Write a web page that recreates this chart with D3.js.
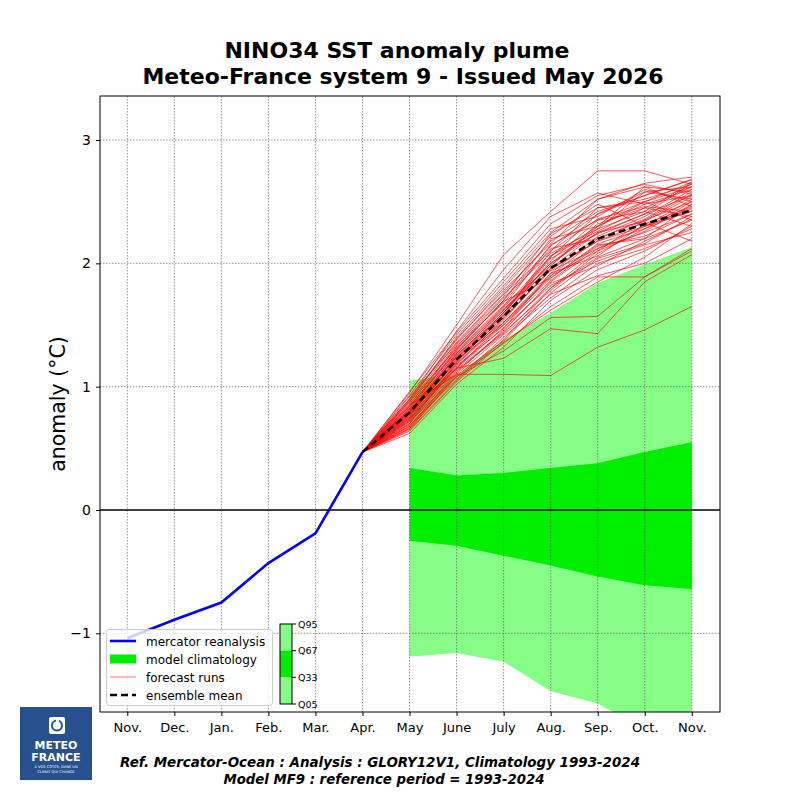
<!DOCTYPE html>
<html>
<head>
<meta charset="utf-8">
<script src="https://cdn.jsdelivr.net/npm/d3@7"></script>
<style>
  body { margin: 0; background: #fff; }
  text { font-family: "DejaVu Sans", sans-serif; }
</style>
</head>
<body>
<div id="chart"></div>
<script>
// Months on the x axis (Nov. 2025 -> Nov. 2026)
const months = ["Nov.", "Dec.", "Jan.", "Feb.", "Mar.", "Apr.", "May", "June", "July", "Aug.", "Sep.", "Oct.", "Nov."];
const yTicks = [-1, 0, 1, 2, 3];

// Mercator reanalysis, Nov. -> Apr.
const reanalysis = [-1.04, -0.89, -0.75, -0.43, -0.19, 0.47];

// Model climatology quantiles, May -> Nov.
const climQ05 = [-1.19, -1.16, -1.23, -1.47, -1.57, -1.78, -1.88];
const climQ33 = [-0.25, -0.29, -0.37, -0.45, -0.54, -0.61, -0.64];
const climQ67 = [0.34, 0.28, 0.30, 0.34, 0.38, 0.47, 0.55];
const climQ95 = [1.05, 1.09, 1.38, 1.60, 1.84, 1.99, 2.13];

// Ensemble mean, Apr. -> Nov.
const ensembleMean = [0.47, 0.79, 1.22, 1.57, 1.96, 2.20, 2.32, 2.43];

// Forecast runs start from the last analysis (Apr.), values May -> Nov.
const runStart = 0.47;
const forecastRuns = [
  [0.95, 1.50, 2.07, 2.42, 2.75, 2.75, 2.64],
  [0.85, 1.10, 1.10, 1.09, 1.32, 1.46, 1.65],
  [0.80, 1.15, 1.23, 1.47, 1.43, 1.85, 2.07],
  [0.72, 1.08, 1.29, 1.56, 1.57, 1.89, 2.12],
  [0.90, 1.45, 1.95, 2.38, 2.57, 2.48, 2.60],
  [0.88, 1.40, 1.82, 2.25, 2.52, 2.65, 2.70],
  [0.78, 1.25, 1.62, 2.05, 2.40, 2.55, 2.68],
  [0.82, 1.30, 1.70, 2.20, 2.30, 2.62, 2.58],
  [0.75, 1.18, 1.55, 1.95, 2.18, 2.30, 2.45],
  [0.68, 1.12, 1.45, 1.85, 2.12, 2.25, 2.40],
  [0.65, 1.05, 1.38, 1.80, 2.05, 2.20, 2.35],
  [0.92, 1.35, 1.75, 2.10, 2.45, 2.50, 2.62],
  [0.70, 1.20, 1.60, 2.00, 2.25, 2.40, 2.55],
  [0.76, 1.22, 1.50, 1.90, 2.10, 2.35, 2.50],
  [0.84, 1.28, 1.65, 2.15, 2.35, 2.42, 2.66],
  [0.62, 1.02, 1.32, 1.70, 1.95, 2.10, 2.30],
  [0.74, 1.15, 1.48, 1.82, 2.02, 2.15, 2.25],
  [0.86, 1.32, 1.72, 2.08, 2.28, 2.58, 2.52],
  [0.79, 1.26, 1.58, 1.98, 2.32, 2.45, 2.38],
  [0.67, 1.10, 1.42, 1.75, 1.90, 2.00, 2.20],
  [0.81, 1.24, 1.52, 1.88, 2.15, 2.20, 2.48],
  [0.73, 1.17, 1.47, 1.92, 2.22, 2.38, 2.60],
  [0.89, 1.38, 1.80, 2.22, 2.48, 2.30, 2.42],
  [0.66, 1.08, 1.35, 1.65, 1.89, 1.89, 2.10],
  [0.77, 1.20, 1.57, 2.02, 2.35, 2.50, 2.35],
  [0.83, 1.33, 1.68, 2.12, 2.20, 2.35, 2.56],
  [0.71, 1.14, 1.44, 1.78, 2.08, 2.28, 2.44],
  [0.93, 1.42, 1.85, 2.28, 2.38, 2.60, 2.50],
  [0.69, 1.06, 1.40, 1.72, 2.00, 2.12, 2.28],
  [0.80, 1.27, 1.64, 2.06, 2.26, 2.45, 2.62],
  [0.75, 1.19, 1.54, 1.96, 2.18, 2.33, 2.18],
  [0.87, 1.36, 1.76, 2.18, 2.42, 2.55, 2.68],
  [0.64, 1.04, 1.36, 1.62, 1.85, 2.05, 2.32],
  [0.78, 1.23, 1.60, 2.04, 2.24, 2.40, 2.65],
  [0.82, 1.29, 1.66, 1.98, 2.30, 2.48, 2.55],
  [0.72, 1.16, 1.50, 1.86, 2.14, 2.22, 2.40],
  [0.90, 1.39, 1.78, 2.16, 2.52, 2.62, 2.46],
  [0.76, 1.21, 1.56, 1.94, 2.12, 2.30, 2.52],
  [0.68, 1.11, 1.46, 1.84, 1.98, 2.18, 2.36],
  [0.85, 1.34, 1.73, 2.24, 2.45, 2.52, 2.64],
  [0.79, 1.25, 1.62, 2.00, 2.28, 2.42, 2.30],
  [0.74, 1.18, 1.52, 1.90, 2.20, 2.36, 2.58],
  [0.88, 1.31, 1.69, 1.88, 2.16, 2.28, 2.50],
  [0.70, 1.13, 1.43, 1.80, 2.10, 2.26, 2.48],
  [0.96, 1.44, 1.88, 2.32, 2.55, 2.64, 2.56],
  [0.77, 1.22, 1.58, 2.10, 2.36, 2.46, 2.42],
  [0.81, 1.27, 1.63, 1.96, 2.25, 2.34, 2.54],
  [0.73, 1.15, 1.52, 1.92, 2.06, 2.32, 2.46],
  [0.84, 1.30, 1.70, 2.14, 2.40, 2.58, 2.62],
  [0.66, 1.09, 1.37, 1.76, 2.04, 2.16, 2.38],
  [0.80, 1.24, 1.60, 2.06, 2.30, 2.50, 2.66]
];

const quantileLabels = ["Q95", "Q67", "Q33", "Q05"];
const legendLabels = ["mercator reanalysis", "model climatology", "forecast runs", "ensemble mean"];

// Layout
const width = 800, height = 800;
const plot = { left: 100, top: 96, right: 720, bottom: 712 };

const lightGreen = "#86fd86";
const darkGreen = "#00ee00";

const svg = d3.select("#chart").append("svg")
    .attr("width", width)
    .attr("height", height);

const x = d3.scaleLinear().domain([-0.58, 12.6]).range([plot.left, plot.right]);
const y = d3.scaleLinear().domain([-1.638, 3.357]).range([plot.bottom, plot.top]);

svg.append("clipPath").attr("id", "clip")
  .append("rect")
    .attr("x", plot.left).attr("y", plot.top)
    .attr("width", plot.right - plot.left).attr("height", plot.bottom - plot.top);

const g = svg.append("g").attr("clip-path", "url(#clip)");

// Climatology bands (index 6 = May)
const climIdx = d3.range(6, 13);
const band = (lo, hi) => d3.area()
    .x((d, i) => x(climIdx[i]))
    .y0((d, i) => y(lo[i]))
    .y1((d, i) => y(hi[i]));

g.append("path").datum(climIdx).attr("d", band(climQ05, climQ95)).attr("fill", lightGreen);
g.append("path").datum(climIdx).attr("d", band(climQ33, climQ67)).attr("fill", darkGreen);

// Grid
g.selectAll(".vgrid").data(months).enter().append("line")
    .attr("x1", (d, i) => x(i)).attr("x2", (d, i) => x(i))
    .attr("y1", plot.top).attr("y2", plot.bottom)
    .attr("stroke", "#666").attr("stroke-width", 0.7).attr("stroke-dasharray", "1.5,1.5");
g.selectAll(".hgrid").data(yTicks.filter(v => v !== 0)).enter().append("line")
    .attr("x1", plot.left).attr("x2", plot.right)
    .attr("y1", d => y(d)).attr("y2", d => y(d))
    .attr("stroke", "#666").attr("stroke-width", 0.7).attr("stroke-dasharray", "1.5,1.5");

// Zero line
g.append("line")
    .attr("x1", plot.left).attr("x2", plot.right)
    .attr("y1", y(0)).attr("y2", y(0))
    .attr("stroke", "#000").attr("stroke-width", 1.5);

// Forecast runs
const runLine = d3.line().x((d, i) => x(5 + i)).y(d => y(d));
g.selectAll(".run").data(forecastRuns).enter().append("path")
    .attr("d", d => runLine([runStart].concat(d)))
    .attr("fill", "none")
    .attr("stroke", "#ff0000")
    .attr("stroke-opacity", 0.65)
    .attr("stroke-width", 1);

// Reanalysis
g.append("path")
    .attr("d", d3.line().x((d, i) => x(i)).y(d => y(d))(reanalysis))
    .attr("fill", "none").attr("stroke", "#0000ff").attr("stroke-width", 2.6);

// Ensemble mean
g.append("path")
    .attr("d", runLine(ensembleMean))
    .attr("fill", "none").attr("stroke", "#000").attr("stroke-width", 2.6)
    .attr("stroke-dasharray", "7,4");

// Axes frame
svg.append("rect")
    .attr("x", plot.left).attr("y", plot.top)
    .attr("width", plot.right - plot.left).attr("height", plot.bottom - plot.top)
    .attr("fill", "none").attr("stroke", "#000").attr("stroke-width", 1);

const xAxis = svg.append("g")
    .attr("transform", `translate(0,${plot.bottom})`)
    .call(d3.axisBottom(x).tickValues(d3.range(months.length)).tickFormat(i => months[i]).tickSize(4).tickPadding(7));
xAxis.select(".domain").remove();
xAxis.selectAll("text").style("font-size", "13px").attr("fill", "#000");

const yAxis = svg.append("g")
    .attr("transform", `translate(${plot.left},0)`)
    .call(d3.axisLeft(y).tickValues(yTicks).tickFormat(d => d < 0 ? "\u2212" + Math.abs(d) : d).tickSize(4).tickPadding(5));
yAxis.select(".domain").remove();
yAxis.selectAll("text").style("font-size", "14px").attr("fill", "#000");

// Y label
svg.append("text")
    .attr("transform", `translate(65,${(plot.top + plot.bottom) / 2}) rotate(-90)`)
    .attr("text-anchor", "middle")
    .style("font-size", "20.5px")
    .text("anomaly (\u00b0C)");

// Title
svg.append("text").attr("x", 397).attr("y", 58).attr("text-anchor", "middle")
    .style("font-size", "22px").style("font-weight", "bold")
    .text("NINO34 SST anomaly plume");
svg.append("text").attr("x", 403).attr("y", 84).attr("text-anchor", "middle")
    .style("font-size", "22px").style("font-weight", "bold")
    .text("Meteo-France system 9 - Issued May 2026");

// Legend
const lg = svg.append("g");
lg.append("rect")
    .attr("x", 106.5).attr("y", 629.5).attr("width", 166).attr("height", 76).attr("rx", 3)
    .attr("fill", "#fff").attr("fill-opacity", 0.8).attr("stroke", "#ccc");
const rowY = d => 641 + d * 18;
lg.append("line").attr("x1", 110).attr("x2", 136).attr("y1", rowY(0)).attr("y2", rowY(0))
    .attr("stroke", "#0000ff").attr("stroke-width", 2.6);
lg.append("rect").attr("x", 110).attr("y", rowY(1) - 4.5).attr("width", 26).attr("height", 9)
    .attr("fill", darkGreen);
lg.append("line").attr("x1", 110).attr("x2", 136).attr("y1", rowY(2)).attr("y2", rowY(2))
    .attr("stroke", "#ff0000").attr("stroke-opacity", 0.6).attr("stroke-width", 0.9);
lg.append("line").attr("x1", 110).attr("x2", 136).attr("y1", rowY(3)).attr("y2", rowY(3))
    .attr("stroke", "#000").attr("stroke-width", 2.6).attr("stroke-dasharray", "7,4");
lg.selectAll(".lt").data(legendLabels).enter().append("text")
    .attr("x", 146).attr("y", (d, i) => rowY(i) + 4.5)
    .style("font-size", "12px")
    .text(d => d);

// Quantile colour bar
const cb = { x: 280, w: 12, top: 624, bottom: 704 };
const qy = d3.scaleLinear().domain([0, 3]).range([cb.top, cb.bottom]);
const cbColors = [lightGreen, darkGreen, lightGreen];
svg.selectAll(".cb").data(cbColors).enter().append("rect")
    .attr("x", cb.x).attr("y", (d, i) => qy(i)).attr("width", cb.w).attr("height", qy(1) - qy(0))
    .attr("fill", d => d);
svg.append("rect").attr("x", cb.x).attr("y", cb.top).attr("width", cb.w).attr("height", cb.bottom - cb.top)
    .attr("fill", "none").attr("stroke", "#000").attr("stroke-width", 1);
svg.selectAll(".cbt").data(quantileLabels).enter().append("line")
    .attr("x1", cb.x + cb.w).attr("x2", cb.x + cb.w + 4)
    .attr("y1", (d, i) => qy(i)).attr("y2", (d, i) => qy(i))
    .attr("stroke", "#000");
svg.selectAll(".cbl").data(quantileLabels).enter().append("text")
    .attr("x", cb.x + cb.w + 6).attr("y", (d, i) => qy(i) + 3.5)
    .style("font-size", "9.5px")
    .text(d => d);

// Footer
svg.append("text").attr("x", 380).attr("y", 767).attr("text-anchor", "middle")
    .style("font-size", "14px").style("font-weight", "bold").style("font-style", "italic")
    .attr("textLength", 520).attr("lengthAdjust", "spacingAndGlyphs")
    .text("Ref. Mercator-Ocean :  Analysis : GLORY12V1, Climatology 1993-2024");
svg.append("text").attr("x", 384).attr("y", 784).attr("text-anchor", "middle")
    .style("font-size", "14px").style("font-weight", "bold").style("font-style", "italic")
    .attr("textLength", 321).attr("lengthAdjust", "spacingAndGlyphs")
    .text("Model MF9 : reference period = 1993-2024");

// Meteo-France logo
const logo = svg.append("g");
logo.append("rect").attr("x", 20).attr("y", 707).attr("width", 72).attr("height", 73).attr("fill", "#26508e");
logo.append("rect").attr("x", 49).attr("y", 717).attr("width", 16).attr("height", 17).attr("rx", 2).attr("fill", "#fff");
logo.append("circle").attr("cx", 57).attr("cy", 725.5).attr("r", 5).attr("fill", "none")
    .attr("stroke", "#26508e").attr("stroke-width", 2);
logo.append("rect").attr("x", 56).attr("y", 719).attr("width", 3).attr("height", 5).attr("fill", "#fff");
logo.append("text").attr("x", 56).attr("y", 749).attr("text-anchor", "middle")
    .style("font-size", "11px").style("font-weight", "bold").attr("fill", "#fff").text("METEO");
logo.append("text").attr("x", 56).attr("y", 761).attr("text-anchor", "middle")
    .style("font-size", "11px").style("font-weight", "bold").attr("fill", "#fff").text("FRANCE");
logo.append("text").attr("x", 56).attr("y", 768).attr("text-anchor", "middle")
    .style("font-size", "3.6px").attr("fill", "#fff").text("\u00c0 VOS C\u00d4T\u00c9S, DANS UN");
logo.append("text").attr("x", 56).attr("y", 773).attr("text-anchor", "middle")
    .style("font-size", "3.6px").attr("fill", "#fff").text("CLIMAT QUI CHANGE");
</script>
</body>
</html>
